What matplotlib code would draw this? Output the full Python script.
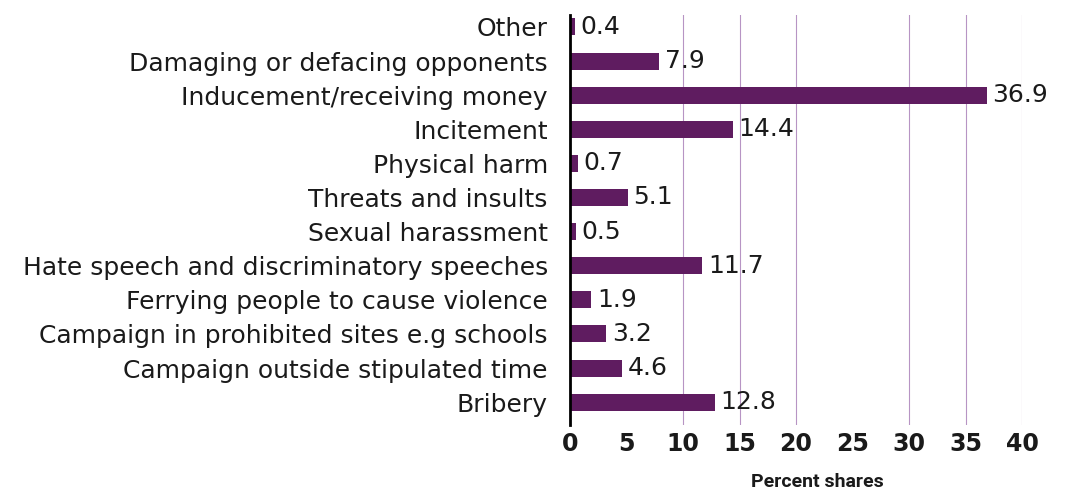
import matplotlib
matplotlib.use("Agg")
import matplotlib.pyplot as plt
from matplotlib import font_manager

categories = [
    "Other",
    "Damaging or defacing opponents",
    "Inducement/receiving money",
    "Incitement",
    "Physical harm",
    "Threats and insults",
    "Sexual harassment",
    "Hate speech and discriminatory speeches",
    "Ferrying people to cause violence",
    "Campaign in prohibited sites e.g schools",
    "Campaign outside stipulated time",
    "Bribery",
]
values = [0.4, 7.9, 36.9, 14.4, 0.7, 5.1, 0.5, 11.7, 1.9, 3.2, 4.6, 12.8]
value_labels = ["0.4", "7.9", "36.9", "14.4", "0.7", "5.1", "0.5", "11.7", "1.9", "3.2", "4.6", "12.8"]
xticks = [0, 5, 10, 15, 20, 25, 30, 35, 40]
gridlines = [10, 15, 20, 30, 35, 40]
xlabel = "Percent shares"

bar_color = "#5f1c60"
grid_color = "#b794c4"
text_color = "#1a1a1a"

plt.rcParams["font.family"] = ["DejaVu Sans"]

names = {f.name for f in font_manager.fontManager.ttflist}
narrow = "Liberation Sans Narrow" if "Liberation Sans Narrow" in names else (
    "DejaVu Sans Condensed" if "DejaVu Sans Condensed" in names else "Roboto")

fig = plt.figure(figsize=(10.68, 4.99), dpi=100)
ax = fig.add_axes([570 / 1068, 1 - 425 / 499, (1022 - 570) / 1068, (425 - 15) / 499])

n = len(categories)
ypos = [n - 1 - i for i in range(n)]

for g in gridlines:
    ax.axvline(g, color=grid_color, linewidth=0.8, zorder=0)

ax.barh(ypos, values, height=0.5, color=bar_color, zorder=2)
for y, v, lab in zip(ypos, values, value_labels):
    ax.text(v + 0.5, y, lab, va="center", ha="left", fontsize=18, color=text_color)

ax.set_xlim(0, 40)
ax.set_ylim(-0.67, 11.35)
ax.set_yticks(ypos)
ax.set_yticklabels(categories, fontsize=18, color=text_color, va="center_baseline")
ax.set_xticks(xticks)
ax.set_xticklabels([str(t) for t in xticks], fontsize=17, fontweight="bold", color=text_color)
ax.tick_params(axis="y", length=0, pad=16)
ax.tick_params(axis="x", length=0, pad=5)

for s in ["top", "right", "bottom"]:
    ax.spines[s].set_visible(False)
ax.spines["left"].set_color("black")
ax.spines["left"].set_linewidth(2)
ax.spines["left"].set_zorder(3)

fig.text(817 / 1068, 1 - 482 / 499, xlabel, ha="center", va="center", fontsize=14,
         fontweight="bold", family=[narrow, "DejaVu Sans"], color=text_color)

fig.savefig("out.png", dpi=100)
